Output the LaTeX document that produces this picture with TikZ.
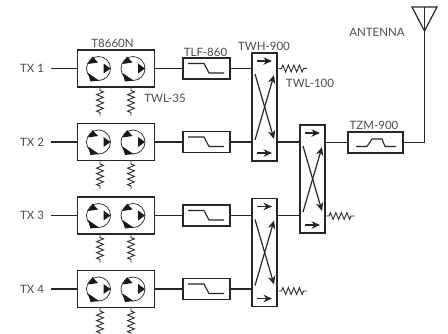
\documentclass[tikz,border=0pt]{standalone}
\usepackage{fontspec}
\setmainfont{Lato}
\usetikzlibrary{arrows.meta,decorations.pathmorphing}

\tikzset{
  wire/.style={line width=1.1pt, black!85},
  unit/.style={draw=black!85, line width=1.4pt, fill=white, inner sep=0pt},
  tag/.style={text=black!70, font=\fontsize{11.5}{12}\selectfont, inner sep=0pt},
  load/.style={line width=0.9pt, black!85, decorate,
    decoration={zigzag, segment length=5.5pt, amplitude=3.4pt, pre length=3pt, post length=2pt}},
  ring/.style={line width=0.7pt, black!85},
  tip/.style={fill=black!90, draw=none},
  flow/.style={line width=1.2pt, black!85, -{Stealth[length=8.5pt,width=7.5pt]}},
}

\begin{document}
\begin{tikzpicture}[x=1pt, y=-1pt]
\useasboundingbox (0,0) rectangle (448,333);

% transmit rows
\foreach \n/\y in {1/68.5, 2/142, 3/215.5, 4/289} {
  \node[tag] (tx\n) at (32,\y) {TX \n};
  \node[unit, minimum width=77pt, minimum height=37pt] (dual\n) at (116,\y) {};
  \node[unit, minimum width=47pt, minimum height=21pt] (lpf\n) at (206.5,\y) {};
  \coordinate (txin\n) at (51,\y);
  \draw[wire] (txin\n) -- (dual\n);
  \draw[wire] (dual\n) -- (lpf\n);
  % low pass curve
  \draw[wire] (188,\y-5) -- (204,\y-5) -- (209,\y+4.5) -- (224,\y+4.5);
  % circulators
  \foreach \cx in {98.5,133} {
    \draw[ring] (\cx,\y) circle (12);
    \begin{scope}[shift={(\cx,\y)}]
      \fill[tip] (-10.5,-4.5) -- (-6,-12) -- (-0.5,-6) -- cycle;
      \fill[tip] (5,-5) -- (12,0) -- (5,5) -- cycle;
      \fill[tip] (-10.5,4.5) -- (-8,13) -- (0.5,12) -- cycle;
    \end{scope}
  }
  % terminations
  \coordinate (loada\n) at (100,\y+47);
  \coordinate (loadb\n) at (131,\y+47);
  \draw[load] (100,\y+19) -- (loada\n);
  \draw[load] (131,\y+19) -- (loadb\n);
}

% hybrids
\node[unit, minimum width=25pt, minimum height=108pt] (hyba) at (264.5,107) {};
\node[unit, minimum width=25pt, minimum height=108pt] (hybb) at (312.5,179) {};
\node[unit, minimum width=25pt, minimum height=108pt] (hybc) at (264.5,252.5) {};
\foreach \hx/\hy in {264.5/107, 312.5/179, 264.5/252.5} {
  \draw[flow] (\hx-7.5,\hy-46) -- (\hx+7.5,\hy-46);
  \draw[flow] (\hx-7.5,\hy+46) -- (\hx+7.5,\hy+46);
  \draw[flow] (\hx-9.5,\hy-33) -- (\hx+9.5,\hy+32);
  \draw[flow] (\hx-9.5,\hy+33) -- (\hx+9.5,\hy-32);
}

\draw[wire] (lpf1) -- (lpf1 -| hyba.west);
\draw[wire] (lpf2) -- (lpf2 -| hyba.west);
\draw[wire] (lpf3) -- (lpf3 -| hybc.west);
\draw[wire] (lpf4) -- (lpf4 -| hybc.west);
\draw[wire] (lpf2 -| hyba.east) -- (lpf2 -| hybb.west);
\draw[wire] (lpf3 -| hybc.east) -- (lpf3 -| hybb.west);

% band pass and antenna
\node[unit, minimum width=55pt, minimum height=21pt] (bpf) at (375.5,142.5) {};
\draw[wire] (356,146.5) -- (367,146.5) -- (372,139) -- (382,139) -- (385,146.5) -- (396,146.5);
\draw[wire] (bpf -| hybb.east) -- (bpf);
\coordinate (ant) at (424.5,31);
\draw[wire] (bpf) -- (bpf -| ant) -- (ant);
\draw[wire, line width=1.2pt, line join=miter] (412,7) -- (437,7) -- (ant) -- cycle;
\draw[wire, line width=0.7pt] (424.5,7) -- (ant);

% end loads
\coordinate (enda) at (307,68.5);
\coordinate (endb) at (354.5,216);
\coordinate (endc) at (307,291);
\draw[load] (278.5,68.5) -- (enda);
\draw[load] (326,216) -- (endb);
\draw[load] (278.5,291) -- (endc);

% labels
\node[tag] (dualname) at (112.5,43) {T8660N};
\node[tag] (lpfname) at (205.5,52) {TLF-860};
\node[tag] (termname) at (165,98) {TWL-35};
\node[tag] (hybname) at (264,46) {TWH-900};
\node[tag] (endname) at (310,83.5) {TWL-100};
\node[tag] (bpfname) at (374,125) {TZM-900};
\node[tag] (antname) at (377,32) {ANTENNA};
\end{tikzpicture}
\end{document}
